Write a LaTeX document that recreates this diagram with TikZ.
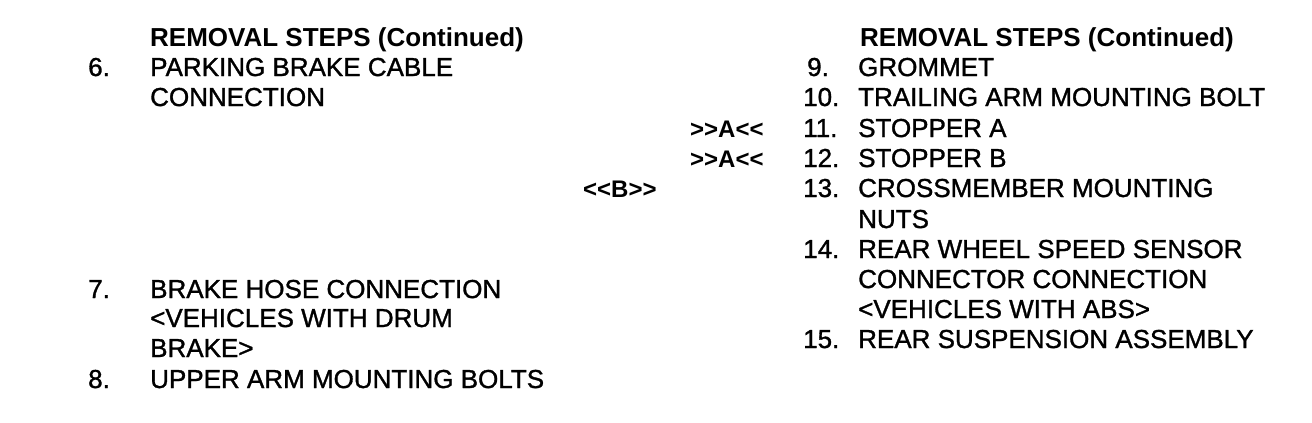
\documentclass[tikz,border=0pt]{standalone}
\usepackage{fontspec}
\setmainfont{Liberation Sans}
\newfontfamily\heavyfont[FakeBold=1.2]{Liberation Sans}
\begin{document}
\begin{tikzpicture}[x=1bp,y=-1bp,
  txt/.style={anchor=base west,inner sep=0pt,font=\heavyfont\fontsize{26bp}{30bp}\selectfont},
  hdr/.style={anchor=base west,inner sep=0pt,font=\fontsize{26bp}{30bp}\selectfont\bfseries},
  marktxt/.style={anchor=base west,inner sep=0pt,font=\fontsize{24bp}{30bp}\selectfont\bfseries}]
\useasboundingbox[fill=white] (0,0) rectangle (1312,422);
% left column
\node[hdr] (lh) at (150,46) {REMOVAL STEPS (Continued)};
\node[txt] (n6) at (88,76) {6.};
\node[txt] (t6a) at (150,76) {PARKING BRAKE CABLE};
\node[txt] (t6b) at (150,106) {CONNECTION};
\node[txt] (n7) at (88,298) {7.};
\node[txt] (t7a) at (150,298) {BRAKE HOSE CONNECTION};
\node[txt] (t7b) at (150,327) {<VEHICLES WITH DRUM};
\node[txt] (t7c) at (150,357) {BRAKE>};
\node[txt] (n8) at (88,388) {8.};
\node[txt] (t8) at (150,388) {UPPER ARM MOUNTING BOLTS};
% middle marks
\node[marktxt] (ma1) at (690,137) {>{}>A<{}<};
\node[marktxt] (ma2) at (690,167) {>{}>A<{}<};
\node[marktxt] (mb) at (583,197) {<{}<B>{}>};
% right column
\node[hdr] (rh) at (860,46) {REMOVAL STEPS (Continued)};
\node[txt] (n9) at (807,76) {9.};
\node[txt] (t9) at (858,76) {GROMMET};
\node[txt] (n10) at (803,106) {10.};
\node[txt] (t10) at (858,106) {TRAILING ARM MOUNTING BOLT};
\node[txt] (n11) at (803,137) {11.};
\node[txt] (t11) at (858,137) {STOPPER A};
\node[txt] (n12) at (803,167) {12.};
\node[txt] (t12) at (858,167) {STOPPER B};
\node[txt] (n13) at (803,197) {13.};
\node[txt] (t13a) at (858,197) {CROSSMEMBER MOUNTING};
\node[txt] (t13b) at (858,228) {NUTS};
\node[txt] (n14) at (803,258) {14.};
\node[txt] (t14a) at (858,258) {REAR WHEEL SPEED SENSOR};
\node[txt] (t14b) at (858,288) {CONNECTOR CONNECTION};
\node[txt] (t14c) at (858,318) {<VEHICLES WITH ABS>};
\node[txt] (n15) at (803,348) {15.};
\node[txt] (t15) at (858,348) {REAR SUSPENSION ASSEMBLY};
\end{tikzpicture}
\end{document}
